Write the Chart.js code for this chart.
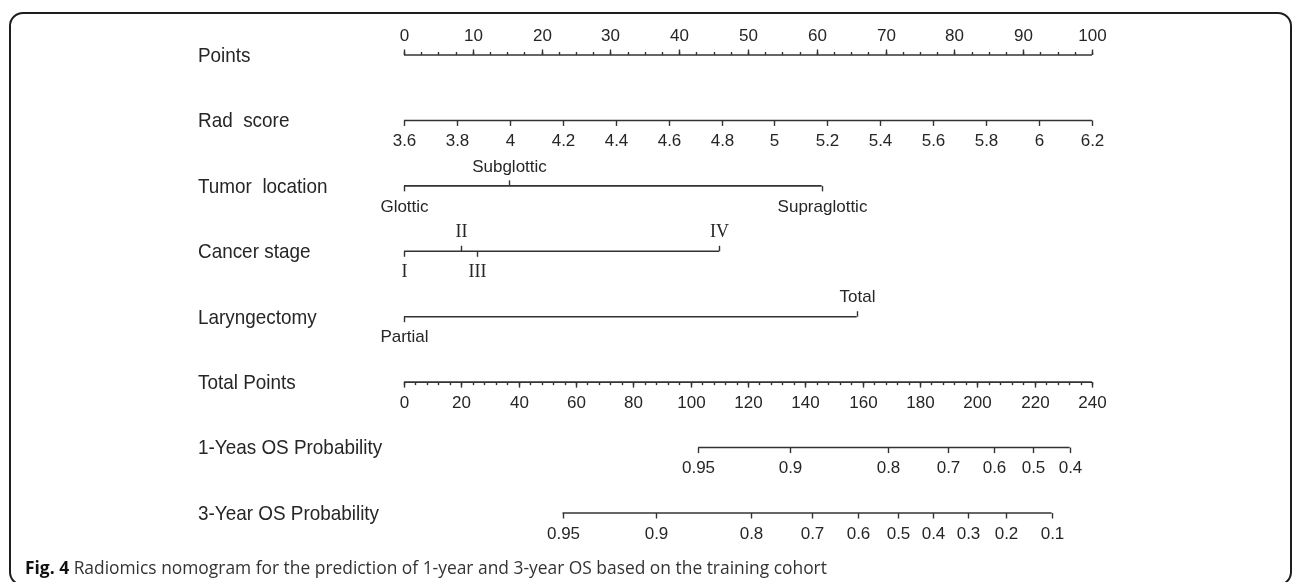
<!DOCTYPE html>
<html>
<head>
<meta charset="utf-8">
<script src="https://cdn.jsdelivr.net/npm/chart.js@4"></script>
<style>
  html, body { margin: 0; padding: 0; background: #fff; }
  #wrap { position: relative; width: 1292px; height: 582px; overflow: hidden; }
  #frame { position: absolute; left: 9px; top: 12px; width: 1283px; height: 574px; border: 2px solid #1e1e1e; border-radius: 14px; box-sizing: border-box; }
  #chart { position: absolute; left: 0; top: 0; }
  #caption { position: absolute; left: 25px; top: 555px; font-family: "Open Sans", "Noto Sans", sans-serif; font-size: 17.4px; line-height: 24px; color: #333; white-space: nowrap; }
  #caption b { color: #111; }
</style>
</head>
<body>
<div id="wrap">
  <div id="frame"></div>
  <canvas id="chart" width="1292" height="582"></canvas>
  <div id="caption"><b>Fig. 4</b> Radiomics nomogram for the prediction of 1-year and 3-year OS based on the training cohort</div>
</div>
<script>
// row names, top to bottom
const rowLabels = ['Points', 'Rad  score', 'Tumor  location', 'Cancer stage', 'Laryngectomy',
                   'Total Points', '1-Yeas OS Probability', '3-Year OS Probability'];

const pointsTicks = [0, 10, 20, 30, 40, 50, 60, 70, 80, 90, 100];
const radScoreTicks = [3.6, 3.8, 4, 4.2, 4.4, 4.6, 4.8, 5, 5.2, 5.4, 5.6, 5.8, 6, 6.2];

const tumorLevels = ['Glottic', 'Subglottic', 'Supraglottic'];
const tumorPoints = [0, 15.3, 60.7];

const stageLevels = ['I', 'II', 'III', 'IV'];
const stagePoints = [0, 8.3, 10.6, 45.8];

const surgeryLevels = ['Partial', 'Total'];
const surgeryPoints = [0, 65.8];

const totalTicks = [0, 20, 40, 60, 80, 100, 120, 140, 160, 180, 200, 220, 240];

const os1Labels = ['0.95', '0.9', '0.8', '0.7', '0.6', '0.5', '0.4'];
const os1Total = [102.6, 134.8, 168.8, 189.8, 205.8, 219.4, 232.2];

const os3Labels = ['0.95', '0.9', '0.8', '0.7', '0.6', '0.5', '0.4', '0.3', '0.2', '0.1'];
const os3Total = [55.3, 87.8, 121.2, 142.3, 158.5, 172.3, 184.5, 196.9, 210, 225.9];

const INK = '#262626';
const NUM_FONT = '17px "Liberation Sans", Arial, sans-serif';
const ROMAN_FONT = '18px "Liberation Serif", "Times New Roman", serif';

const rows = [
    { axis: 'x', values: pointsTicks, texts: pointsTicks.map(String), sides: 'up', minor: 2.5 },
    { axis: 'xRad', values: radScoreTicks, texts: radScoreTicks.map(String), sides: 'down' },
    { axis: 'x', values: tumorPoints, texts: tumorLevels, sides: ['down', 'up', 'down'] },
    { axis: 'x', values: stagePoints, texts: stageLevels, sides: ['down', 'up', 'down', 'up'], font: ROMAN_FONT },
    { axis: 'x', values: surgeryPoints, texts: surgeryLevels, sides: ['down', 'up'] },
    { axis: 'xTotal', values: totalTicks, texts: totalTicks.map(String), sides: 'down', minor: 4 },
    { axis: 'xTotal', values: os1Total, texts: os1Labels, sides: 'down' },
    { axis: 'xTotal', values: os3Total, texts: os3Labels, sides: 'down' },
];

const datasets = rows.map((row, i) => ({
    label: rowLabels[i],
    xAxisID: row.axis,
    data: [
        { x: Math.min(...row.values), y: i },
        { x: Math.max(...row.values), y: i }
    ],
    borderColor: '#333',
    borderWidth: 1.6,
    pointRadius: 0,
    clip: false
}));

const nomogramTicks = {
    id: 'nomogramTicks',
    afterDatasetsDraw(chart) {
        const ctx = chart.ctx;
        const yScale = chart.scales.y;
        ctx.save();
        ctx.strokeStyle = '#333';
        ctx.lineWidth = 1.4;
        ctx.fillStyle = INK;
        ctx.textAlign = 'center';
        ctx.textBaseline = 'middle';

        rows.forEach((row, i) => {
            const sx = chart.scales[row.axis];
            const y = yScale.getPixelForValue(i);

            // row name, slightly condensed like the original
            ctx.save();
            ctx.font = '21px "Liberation Sans", Arial, sans-serif';
            ctx.textAlign = 'left';
            ctx.translate(198, y + 1);
            ctx.scale(0.9, 1);
            ctx.fillText(rowLabels[i], 0, 0);
            ctx.restore();

            // minor ticks
            if (row.minor) {
                const lo = Math.min(...row.values), hi = Math.max(...row.values);
                const dir = row.sides === 'up' ? -1 : 1;
                for (let v = lo; v <= hi + 1e-9; v += row.minor) {
                    const px = Math.round(sx.getPixelForValue(v)) + 0.5;
                    ctx.beginPath();
                    ctx.moveTo(px, y);
                    ctx.lineTo(px, y + dir * 3);
                    ctx.stroke();
                }
            }

            ctx.font = row.font || NUM_FONT;
            row.values.forEach((v, k) => {
                const side = Array.isArray(row.sides) ? row.sides[k] : row.sides;
                const dir = side === 'up' ? -1 : 1;
                const px = Math.round(sx.getPixelForValue(v)) + 0.5;
                ctx.beginPath();
                ctx.moveTo(px, y);
                ctx.lineTo(px, y + dir * 5.5);
                ctx.stroke();
                ctx.fillText(row.texts[k], px, y + (dir < 0 ? -19 : 21));
            });
        });
        ctx.restore();
    }
};

new Chart(document.getElementById('chart'), {
    type: 'line',
    data: { datasets },
    options: {
        responsive: false,
        animation: false,
        layout: { padding: { left: 404, right: 200, top: 55, bottom: 69 } },
        plugins: {
            legend: { display: false },
            tooltip: { enabled: false }
        },
        scales: {
            x: { type: 'linear', min: 0, max: 100, display: false },
            xRad: { type: 'linear', axis: 'x', min: 3.6, max: 6.2, display: false },
            xTotal: { type: 'linear', axis: 'x', min: 0, max: 240, display: false },
            y: { type: 'linear', min: 0, max: 7, reverse: true, display: false }
        }
    },
    plugins: [nomogramTicks]
});
</script>
</body>
</html>
